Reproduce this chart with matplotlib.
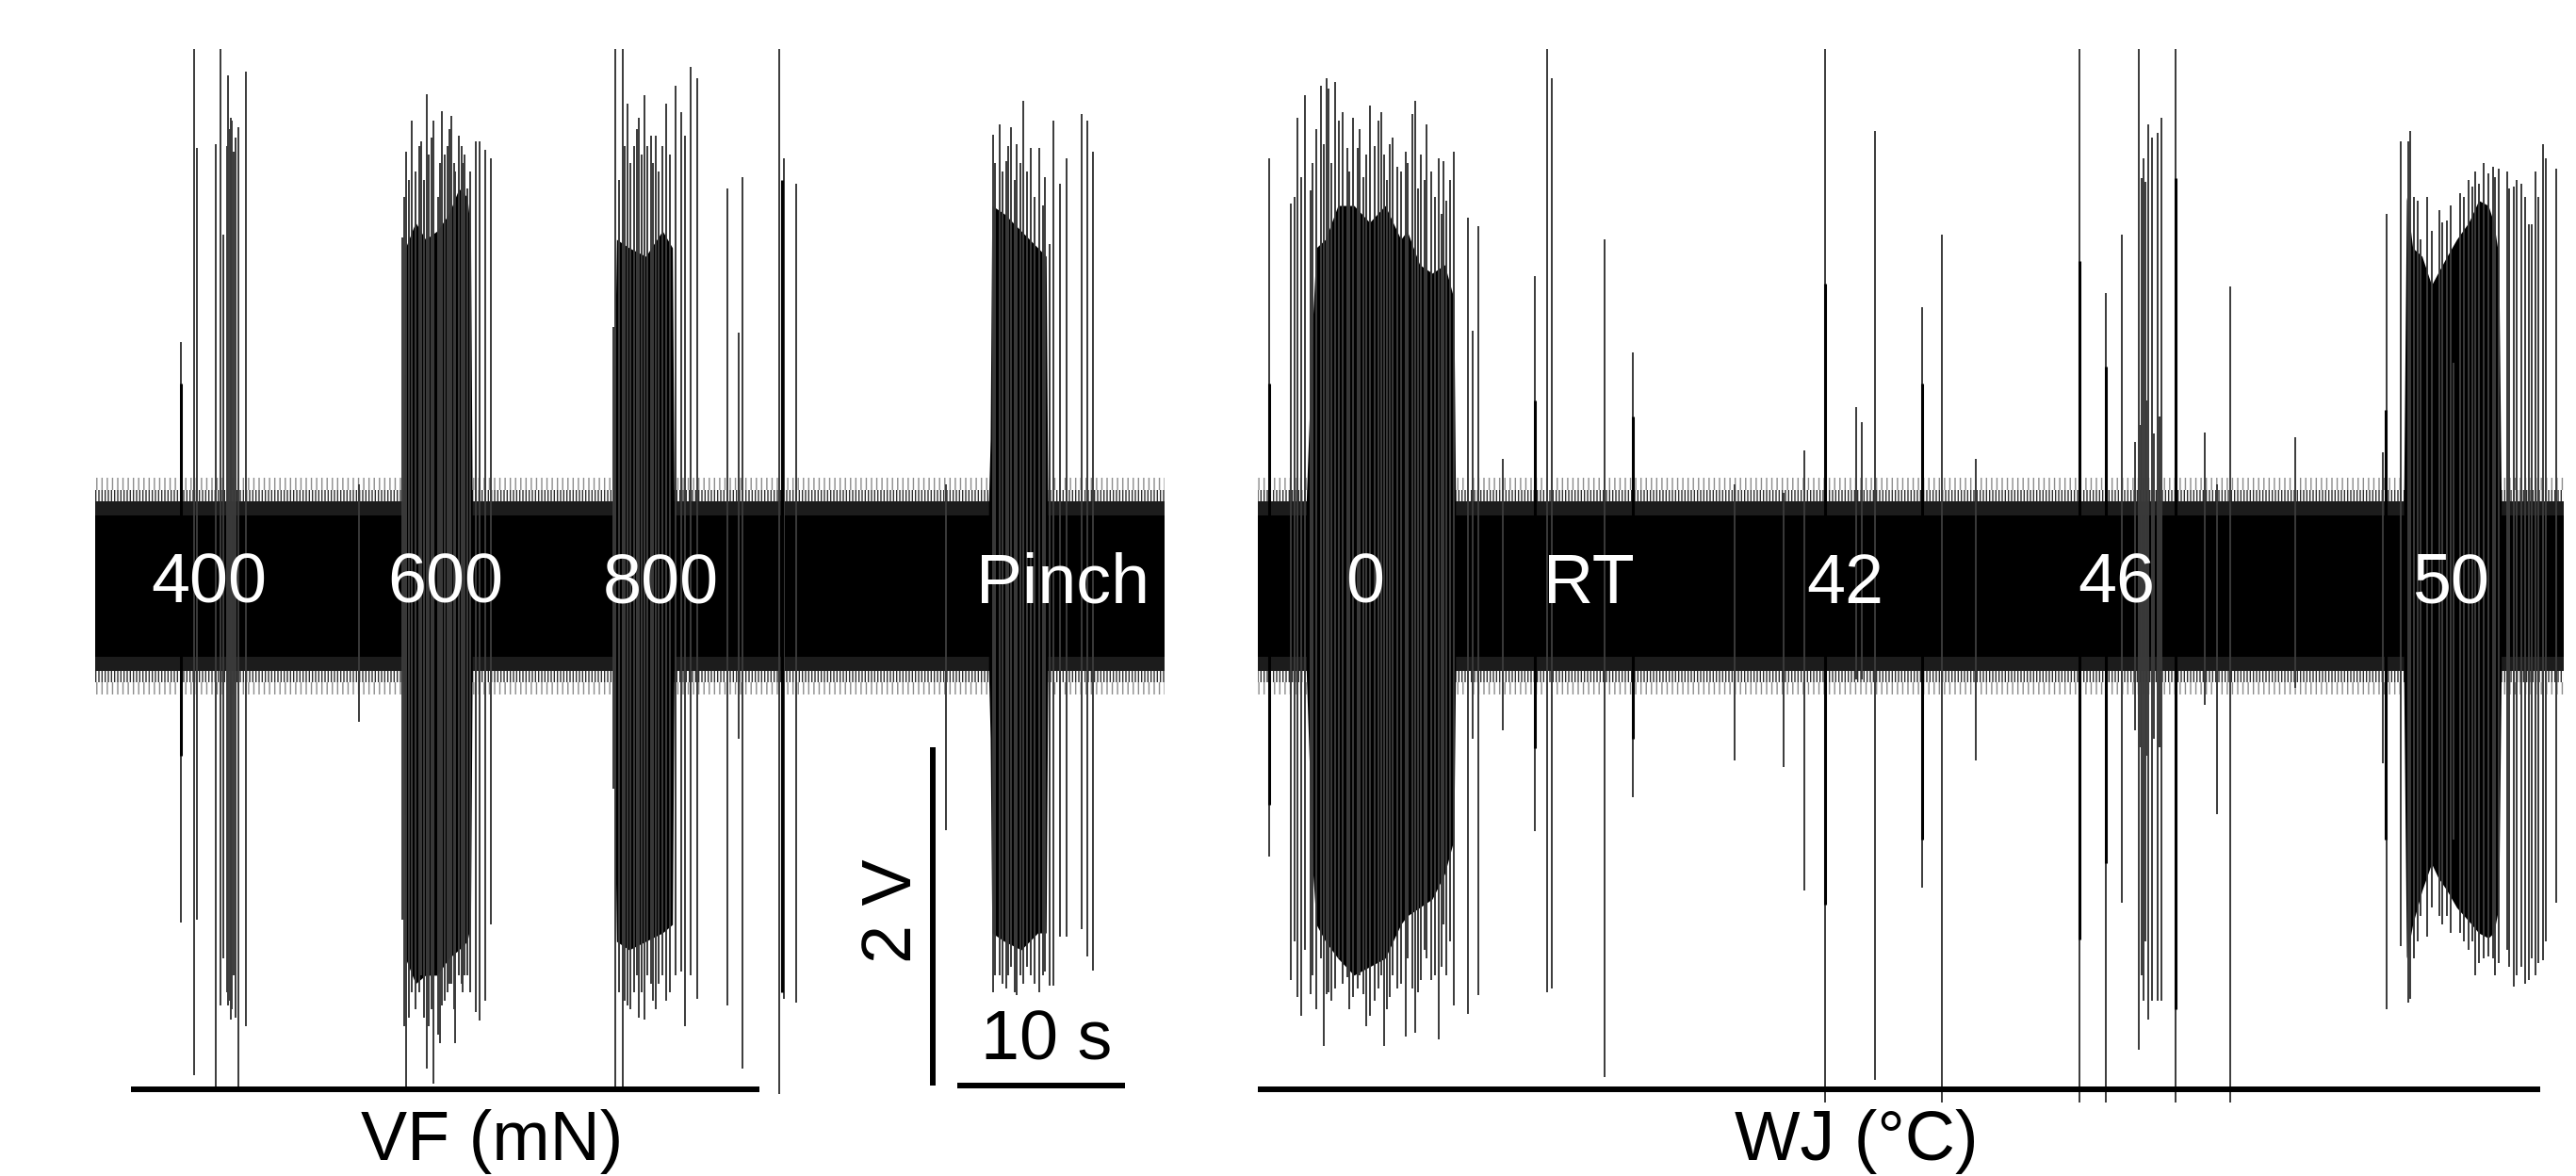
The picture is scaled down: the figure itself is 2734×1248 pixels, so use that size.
import numpy as np
import matplotlib
matplotlib.use("Agg")
import matplotlib.pyplot as plt

plt.rcParams['font.family'] = ['Liberation Sans', 'DejaVu Sans']
plt.rcParams['hatch.linewidth'] = 1.0

# ---- left recording: von Frey (VF) + pinch, time [s], voltage [V] ----
vf_len = 64.1
vf_spike_t = [5.14, 5.93, 6.10, 7.23, 7.51, 7.68, 7.90, 7.97, 8.05, 8.14, 8.20, 8.31, 8.40, 8.59, 9.04, 15.8,
              18.40, 18.65, 18.80, 18.98, 19.20, 19.55, 19.90, 20.00, 20.30, 20.55, 20.80, 21.10, 21.35, 21.60,
              21.80, 22.00, 22.30, 22.80, 23.05, 23.40, 23.70,
              31.07, 31.20, 31.60, 31.90, 32.30, 32.60, 32.90, 33.30, 33.60, 34.20, 34.80, 35.10, 35.35, 35.70,
              36.10, 37.90, 38.60, 38.80, 41.00, 41.30, 42.00, 51.00,
              53.80, 54.20, 54.60, 54.90, 55.25, 55.65, 56.10, 56.60, 56.95, 57.20, 57.45, 57.85, 58.25, 59.15,
              59.45, 59.80]
vf_spike_up = [1.44, 3.18, 2.59, 2.61, 3.18, 2.08, 2.60, 3.02, 2.70, 2.77, 2.75, 2.57, 2.65, 2.71, 3.04, 0.60,
               2.06, 2.57, 2.40, 2.75, 2.45, 2.63, 2.91, 2.55, 2.75, 2.30, 2.81, 2.60, 2.78, 2.45,
               2.66, 2.50, 2.35, 2.63, 2.63, 2.58, 2.53,
               1.53, 3.18, 3.18, 2.85, 2.60, 2.77, 2.90, 2.66, 2.66, 2.85, 2.96, 2.80, 2.66, 3.07,
               3.00, 2.35, 1.50, 2.42, 3.18, 2.53, 2.38, 0.60,
               2.67, 2.73, 2.51, 2.71, 2.61, 2.87, 2.59, 2.59, 2.42, 2.02, 2.75, 2.38, 2.53, 2.79,
               2.75, 2.57]
vf_spike_dn = [-1.99, -2.89, -1.97, -2.97, -2.48, -2.20, -2.40, -2.48, -2.45, -2.56, -2.50, -2.30, -2.55, -2.97, -2.60, -0.80,
               -1.97, -2.97, -2.55, -2.40, -2.50, -2.30, -2.85, -2.60, -2.94, -2.65, -2.48, -2.40, -2.35, -2.70,
               -2.30, -2.40, -2.30, -2.52, -2.57, -2.45, -2.00,
               -1.20, -2.97, -2.97, -2.48, -2.40, -2.55, -2.56, -2.35, -2.50, -2.45, -2.30, -2.28, -2.60, -2.30,
               -2.44, -2.48, -0.90, -2.85, -3.00, -2.44, -2.46, -1.44,
               -2.40, -2.30, -2.38, -2.25, -2.42, -2.35, -2.30, -2.40, -2.28, -2.36, -2.36, -2.07, -2.07, -2.03,
               -2.19, -2.27]
# spikes packed inside the bursts
vf_dense_t = [18.50, 19.40, 19.70, 20.15, 20.65, 20.95, 21.25, 21.50, 21.95, 22.15, 22.45,
              31.40, 31.75, 32.10, 32.45, 32.75, 33.10, 33.45, 33.80, 34.00, 34.45,
              53.95, 54.40, 54.75, 55.10, 55.45, 55.85, 56.30, 56.80]
vf_dense_up = [2.30, 2.60, 2.40, 2.65, 2.50, 2.55, 2.70, 2.50, 2.60, 2.55, 2.45,
               2.40, 2.60, 2.50, 2.70, 2.55, 2.60, 2.50, 2.45, 2.60, 2.55,
               2.50, 2.45, 2.60, 2.40, 2.50, 2.45, 2.30, 2.25]
vf_dense_dn = [-2.60, -2.40, -2.55, -2.50, -2.70, -2.45, -2.35, -2.50, -2.35, -2.30, -2.40,
               -2.40, -2.45, -2.50, -2.30, -2.40, -2.30, -2.45, -2.35, -2.30, -2.40,
               -2.30, -2.35, -2.30, -2.40, -2.30, -2.25, -2.35, -2.30]
vf_thick_t = [5.14, 41.15]
vf_thick_up = [1.20, 2.40]
vf_thick_dn = [-1.00, -2.40]

b600_t = [18.45, 18.60, 19.20, 19.80, 20.50, 21.20, 21.80, 22.30, 22.50, 22.60]
b600_top = [0.50, 2.00, 2.15, 2.05, 2.10, 2.20, 2.35, 2.30, 2.10, 0.50]
b600_bot = [-0.50, -2.20, -2.35, -2.30, -2.30, -2.20, -2.15, -2.10, -2.00, -0.50]
b800_t = [31.10, 31.25, 32.00, 33.00, 34.00, 34.60, 34.70]
b800_top = [1.00, 2.05, 2.00, 1.95, 2.10, 2.00, 0.50]
b800_bot = [-1.00, -2.10, -2.15, -2.10, -2.05, -2.00, -0.50]
bpinch_t = [53.55, 53.65, 53.75, 54.50, 55.50, 56.50, 57.00, 57.10]
bpinch_top = [0.50, 0.87, 2.25, 2.20, 2.10, 2.00, 1.95, 0.50]
bpinch_bot = [-0.50, -0.90, -2.05, -2.10, -2.15, -2.05, -2.05, -0.50]

# ---- right recording: water jet (WJ) temperatures ----
wj_len = 78.3
wj_spike_t = [0.66, 2.00, 2.39, 2.60, 2.82, 3.14, 3.77, 3.95, 4.10, 4.24, 4.61, 4.84, 5.37, 5.71, 5.97, 6.31,
              6.72, 7.25, 7.59, 7.91, 8.38, 8.85, 9.27, 9.42, 9.79, 10.13, 10.41, 10.83, 11.11, 11.30, 11.77,
              12.60, 12.90, 13.20, 14.70, 16.60, 17.35, 17.60, 20.80, 22.50, 28.60, 31.50, 32.77, 34.00,
              35.90, 36.20, 37.00, 39.80, 41.00, 43.07, 49.25, 50.85, 51.80,
              52.80, 53.00, 53.10, 53.20, 53.40, 53.60, 53.96, 54.20, 55.00, 56.80, 57.50, 58.30, 62.20,
              67.46, 67.70, 68.50, 68.96, 69.10, 69.53, 70.10, 70.85, 71.30, 71.70, 72.10, 72.80, 73.20,
              73.77, 74.05, 74.40, 74.90, 75.30, 75.74, 76.20, 76.40, 76.78, 77.06, 77.25, 77.87]
wj_spike_up = [2.53, 2.26, 2.77, 2.42, 2.90, 2.34, 2.96, 2.61, 3.00, 2.94, 2.98, 2.75, 2.59, 2.77, 2.59, 2.42,
               2.84, 2.75, 2.55, 2.61, 2.48, 2.57, 2.79, 2.87, 2.55, 2.73, 2.45, 2.53, 2.51, 2.28, 2.57,
               2.18, 1.51, 2.13, 0.75, 1.83, 3.18, 3.00, 2.05, 1.38, 0.60, 0.55, 0.80, 3.18,
               1.06, 0.97, 2.69, 1.65, 2.08, 0.75, 3.18, 1.73, 2.08,
               3.18, 2.41, 2.53, 2.39, 2.73, 2.65, 2.68, 2.77, 3.18, 0.91, 0.60, 1.77, 0.88,
               0.79, 2.20, 2.63, 2.63, 2.69, 2.28, 2.30, 2.22, 2.16, 1.32, 2.32, 2.36, 2.38,
               2.44, 2.48, 2.47, 2.45, 2.36, 2.38, 2.14, 2.14, 2.30, 2.61, 2.53, 2.47]
wj_spike_dn = [-1.60, -2.33, -2.43, -2.54, -2.15, -2.41, -2.20, -2.72, -2.41, -2.40, -2.38, -2.20, -2.31, -2.43, -2.38, -2.41,
               -2.54, -2.38, -2.72, -2.43, -2.38, -2.66, -2.38, -2.64, -2.33, -2.20, -2.33, -2.68, -2.00, -2.30, -2.48,
               -2.53, -0.90, -2.42, -0.85, -1.45, -2.40, -2.38, -2.90, -1.25, -1.03, -1.07, -1.80, -3.05,
               -0.55, -0.55, -2.92, -1.78, -3.05, -1.03, -3.05, -3.05, -1.87,
               -2.74, -2.30, -2.45, -2.10, -2.56, -2.45, -2.45, -2.45, -3.05, -0.70, -1.35, -3.05, -0.60,
               -1.05, -2.50, -2.13, -2.46, -2.44, -2.10, -2.07, -1.95, -1.95, -1.50, -2.05, -2.10, -2.23,
               -2.19, -2.20, -2.23, -2.15, -2.37, -2.25, -2.33, -2.20, -2.23, -2.21, -2.10, -1.87]
wj_dense_t = [2.20, 3.30, 3.50, 4.40, 5.10, 5.50, 6.10, 6.50, 7.00, 7.40, 7.75, 8.10, 8.60, 9.00, 9.60,
              10.00, 10.60, 11.00, 11.50,
              52.60, 52.95, 53.30, 53.75, 54.05,
              69.30, 69.70, 70.40, 71.00, 71.50, 72.30, 72.60, 73.00, 73.50, 74.20, 75.00, 75.50, 76.00, 76.60]
wj_dense_up = [2.30, 2.50, 2.70, 2.50, 2.80, 2.45, 2.70, 2.55, 2.60, 2.80, 2.40, 2.65, 2.45, 2.50, 2.35,
               2.40, 2.30, 2.20, 2.40,
               0.85, 0.95, 1.10, 0.90, 1.00,
               2.30, 2.05, 2.10, 2.15, 2.25, 2.30, 2.40, 2.45, 2.50, 2.42, 2.35, 2.40, 2.30, 2.45]
wj_dense_dn = [-2.10, -2.30, -2.50, -2.45, -2.35, -2.50, -2.30, -2.60, -2.45, -2.30, -2.50, -2.30, -2.35, -2.20, -2.40,
               -2.15, -2.30, -2.25, -2.10,
               -0.85, -0.95, -1.00, -0.90, -0.95,
               -2.20, -1.95, -1.90, -2.00, -2.05, -2.10, -2.15, -2.30, -2.20, -2.30, -2.25, -2.30, -2.35, -2.30]
wj_thick_t = [0.66, 16.60, 22.50, 34.00, 39.80, 49.25, 50.85, 55.00, 67.60]
wj_thick_up = [1.20, 1.10, 1.00, 1.79, 1.20, 1.92, 1.30, 2.41, 1.04]
wj_thick_dn = [-1.29, -0.96, -0.90, -1.88, -1.50, -2.09, -1.64, -2.50, -1.50]

b0_t = [2.90, 3.30, 3.50, 4.05, 4.80, 5.76, 6.70, 7.63, 8.57, 8.95, 9.70, 10.45, 11.20, 11.75, 11.85]
b0_top = [0.50, 1.60, 2.00, 2.05, 2.25, 2.25, 2.15, 2.25, 2.05, 2.10, 1.90, 1.85, 1.90, 1.70, 0.50]
b0_bot = [-0.50, -1.70, -2.00, -2.10, -2.20, -2.30, -2.25, -2.20, -2.00, -1.95, -1.90, -1.85, -1.70, -1.50, -0.50]
b50_t = [68.70, 68.87, 69.24, 69.80, 70.37, 70.75, 71.30, 71.88, 72.60, 73.20, 73.77, 74.10, 74.40, 74.55]
b50_top = [0.50, 2.30, 2.00, 1.95, 1.78, 1.85, 1.95, 2.05, 2.15, 2.28, 2.25, 2.15, 1.95, 0.50]
b50_bot = [-0.50, -2.20, -2.00, -1.80, -1.64, -1.72, -1.80, -1.90, -1.98, -2.05, -2.08, -2.05, -1.90, -0.50]

# baseline noise amplitude [V]: solid core and fuzzy edge levels
noise_core = 0.42
noise_mid = 0.50
noise_edge = 0.57
noise_peak = 0.64

vf_labels = ['400', '600', '800', 'Pinch']
vf_label_t = [6.8, 21.0, 33.9, 58.0]
wj_labels = ['0', 'RT', '42', '46', '50']
wj_label_t = [6.4, 19.85, 35.2, 51.5, 71.5]

W, H = 2734, 1248
fig = plt.figure(figsize=(W / 100, H / 100), dpi=100)
ylim = (-3.487, 3.175)
ax1 = fig.add_axes([101 / W, 0, (1236 - 101) / W, 1 - 52 / H])
ax2 = fig.add_axes([1335 / W, 0, (2721 - 1335) / W, 1 - 52 / H])

spk = '#3a3a3a'


def fuzz(ax, length, lo, hi, hatch, color):
    for s in (1, -1):
        ax.fill_between([0, length], s * lo, s * hi, facecolor='none', edgecolor=color,
                        hatch=hatch, lw=0)


def draw_trace(ax, length, spikes, thick, bursts, labels, label_t):
    ax.fill_between([0, length], -noise_mid, noise_mid, color='#1c1c1c', lw=0)
    fuzz(ax, length, noise_mid, noise_edge, '|||||', '#2e2e2e')
    fuzz(ax, length, noise_edge, noise_peak, '|||', '#8c8c8c')
    ax.fill_between([0, length], -noise_core, noise_core, color='black', lw=0)
    for bt, btop, bbot in bursts:
        ax.fill_between(bt, bbot, btop, color='black', lw=0)
    for st, su, sd in spikes:
        ax.vlines(st, sd, su, color=spk, lw=1.4)
    ax.vlines(thick[0], thick[2], thick[1], color='black', lw=2.2)
    for lab, t in zip(labels, label_t):
        ax.text(t, -0.10, lab, color='white', fontsize=53, ha='center', va='baseline')
    ax.set_xlim(0, length)
    ax.set_ylim(*ylim)
    ax.axis('off')


draw_trace(ax1, vf_len,
           [(vf_spike_t, vf_spike_up, vf_spike_dn), (vf_dense_t, vf_dense_up, vf_dense_dn)],
           (vf_thick_t, vf_thick_up, vf_thick_dn),
           [(b600_t, b600_top, b600_bot), (b800_t, b800_top, b800_bot), (bpinch_t, bpinch_top, bpinch_bot)],
           vf_labels, vf_label_t)
draw_trace(ax2, wj_len,
           [(wj_spike_t, wj_spike_up, wj_spike_dn), (wj_dense_t, wj_dense_up, wj_dense_dn)],
           (wj_thick_t, wj_thick_up, wj_thick_dn),
           [(b0_t, b0_top, b0_bot), (b50_t, b50_top, b50_bot)],
           wj_labels, wj_label_t)

# stimulus bars and captions
ax1.plot([2.15, 39.8], [-2.975, -2.975], color='black', lw=4.3, solid_capstyle='butt', clip_on=False)
ax2.plot([0, 76.9], [-2.975, -2.975], color='black', lw=4.3, solid_capstyle='butt', clip_on=False)
ax1.text(23.8, -3.39, 'VF (mN)', fontsize=53, ha='center', va='baseline', clip_on=False)
ax2.text(35.9, -3.39, 'WJ (°C)', fontsize=53, ha='center', va='baseline', clip_on=False)

# scale bar: 2 V, 10 s
ax1.plot([50.2, 50.2], [-0.95, -2.95], color='black', lw=4.3, solid_capstyle='butt', clip_on=False)
ax1.plot([51.7, 61.7], [-2.95, -2.95], color='black', lw=4.3, solid_capstyle='butt', clip_on=False)
ax1.text(47.8, -1.92, '2 V', fontsize=53, rotation=90, ha='center', va='center')
ax1.text(57.0, -2.80, '10 s', fontsize=53, ha='center', va='baseline')

fig.savefig('out.png', dpi=100, facecolor='white')
